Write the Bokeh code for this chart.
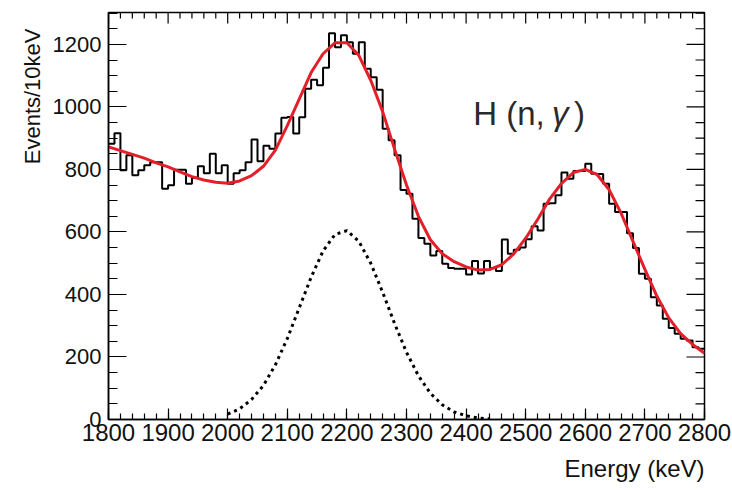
import math
from bokeh.plotting import figure
from bokeh.models import Range1d, FixedTicker, Label, Title
from bokeh.embed import file_html
from bokeh.resources import INLINE

# ---- data ----
bin_low = list(range(1800, 2800, 10))          # 10 keV bins, 1800..2790
counts = [882, 916, 797, 845, 781, 797, 813, 823, 823, 738,
          749, 799, 799, 754, 773, 810, 788, 850, 788, 813,
          754, 788, 797, 823, 896, 826, 876, 866, 915, 965,
          968, 915, 967, 1058, 1087, 1069, 1125, 1236, 1191, 1229,
          1207, 1170, 1207, 1122, 1095, 1055, 930, 893, 845, 734,
          722, 642, 581, 562, 525, 539, 498, 485, 482, 482,
          464, 507, 467, 507, 485, 475, 576, 530, 543, 550,
          577, 618, 605, 690, 692, 717, 790, 770, 795, 795,
          818, 786, 785, 754, 690, 664, 664, 596, 549, 466,
          450, 391, 365, 322, 293, 274, 258, 253, 231, 226]

fit_x = list(range(1800, 2801, 20))
fit_y = [872, 860, 848, 836, 821, 808, 792, 777, 766, 759,
         756, 763, 780, 810, 862, 940, 1025, 1110, 1170, 1205,
         1205, 1165, 1085, 985, 865, 750, 650, 575, 530, 505,
         488, 478, 480, 495, 530, 580, 640, 705, 755, 790,
         800, 783, 735, 660, 570, 480, 395, 325, 275, 240, 212]

peak_x = list(range(2000, 2441, 20))
peak_y = [17, 34, 64, 109, 175, 259, 357, 455, 539, 592,
          604, 570, 500, 407, 307, 215, 140, 84, 47, 24, 12, 5, 2]

x_major = list(range(1800, 2801, 100))
x_minor = list(range(1800, 2801, 20))
y_major = list(range(0, 1201, 200))
y_minor = list(range(0, 1301, 50))

X0, X1, Y0, Y1 = 1800, 2800, 0, 1302
FONT = "Liberation Sans"

p = figure(width=732, height=490, output_backend="svg", toolbar_location=None,
           x_range=Range1d(X0, X1), y_range=Range1d(Y0, Y1),
           min_border_left=108, min_border_right=28,
           min_border_top=12, min_border_bottom=71)
p.xgrid.visible = False
p.ygrid.visible = False
p.outline_line_color = "black"
p.outline_line_width = 1.5
p.background_fill_color = "white"
p.border_fill_color = "white"

def style_axis(ax, ticker, major_in, minor_in, size):
    ax.ticker = ticker
    ax.axis_line_color = "black"
    ax.axis_line_width = 1.5
    ax.major_tick_line_color = "black"
    ax.minor_tick_line_color = "black"
    ax.major_tick_line_width = 1.2
    ax.minor_tick_line_width = 1.2
    ax.major_tick_in = major_in
    ax.major_tick_out = 0
    ax.minor_tick_in = minor_in
    ax.minor_tick_out = 0
    ax.major_label_text_font = FONT
    ax.major_label_text_font_size = size
    ax.major_label_text_color = "#111111"

style_axis(p.xaxis[0], FixedTicker(ticks=x_major, minor_ticks=x_minor), 11, 6, "24px")
p.xaxis[0].major_label_standoff = 4
style_axis(p.yaxis[0], FixedTicker(ticks=y_major, minor_ticks=y_minor), 18, 9, "22px")
p.yaxis[0].major_label_standoff = 7

# ticks on the right and top edges (ROOT style), drawn as screen-length rays
x_minor_only = [t for t in x_minor if t not in x_major]
y_minor_only = [t for t in y_minor if t not in y_major]
p.ray(x=[X1] * len(y_major), y=y_major, length=18, length_units="screen",
      angle=math.pi, line_color="black", line_width=1.2)
p.ray(x=[X1] * len(y_minor_only), y=y_minor_only, length=9, length_units="screen",
      angle=math.pi, line_color="black", line_width=1.2)
p.ray(x=x_major, y=[Y1] * len(x_major), length=11, length_units="screen",
      angle=-math.pi / 2, line_color="black", line_width=1.2)
p.ray(x=x_minor_only, y=[Y1] * len(x_minor_only), length=6, length_units="screen",
      angle=-math.pi / 2, line_color="black", line_width=1.2)

# histogram outline
edges = bin_low + [bin_low[-1] + 10]
vals = counts + [counts[-1]]
p.step(x=edges, y=vals, mode="after", line_color="black", line_width=2)

# fitted component (dotted) and total fit (red)
p.line(peak_x, peak_y, line_color="black", line_width=3, line_dash="3 4")
p.line(fit_x, fit_y, line_color="#e3202a", line_width=3)

# in-plot label
lab = dict(text_font=FONT, text_font_size="33px", text_color="#2a2a2a",
           text_baseline="alphabetic", text_align="left")
p.add_layout(Label(x=2412, y=979, text="H (n,", **lab))
p.add_layout(Label(x=2544, y=979, text="γ", text_font_style="italic", **lab))
p.add_layout(Label(x=2581, y=979, text=")", **lab))

# axis titles (right / top aligned as in ROOT)
p.add_layout(Title(text="Energy (keV)", align="right", text_font=FONT,
                   text_font_size="24px", text_font_style="normal",
                   text_color="#111111", standoff=18, offset=0), "below")
p.add_layout(Title(text="Events/10keV", align="right", text_font=FONT,
                   text_font_size="22px", text_font_style="normal",
                   text_color="#111111", standoff=10, offset=16), "left")

open("out.html", "w").write(file_html(p, INLINE))
